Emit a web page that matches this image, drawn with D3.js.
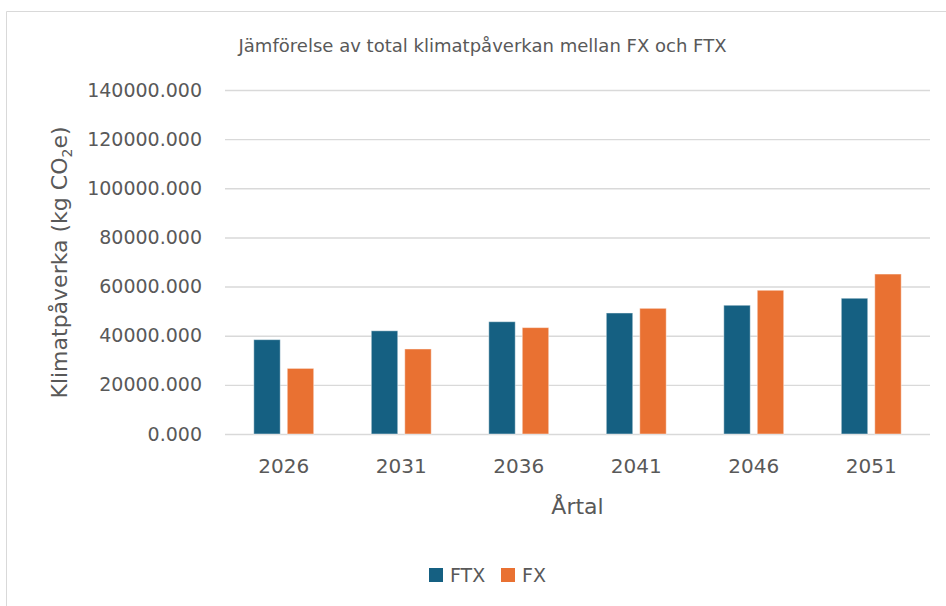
<!DOCTYPE html>
<html>
<head>
<meta charset="utf-8">
<script src="https://cdn.jsdelivr.net/npm/d3@7"></script>
<style>
  html, body { margin: 0; padding: 0; background: #fff; }
  svg { display: block; }
</style>
</head>
<body>
<div id="chart"></div>
<script>
// Klimatpåverkan FX vs FTX — grouped bar chart

var years     = ['2026', '2031', '2036', '2041', '2046', '2051'];
var seriesIds = ['FTX', 'FX'];
var ftxValues = [38400, 42000, 45700, 49250, 52400, 55250];
var fxValues  = [26700, 34600, 43300, 51150, 58500, 65100];
var yTicks    = [0, 20000, 40000, 60000, 80000, 100000, 120000, 140000];

var COLORS = { FTX: '#156082', FX: '#E97132' };
var TEXT   = '#595959';
var FONT   = 'DejaVu Sans, Liberation Sans, sans-serif';

var W = 946, H = 606;
var rows = years.map(function(y, i) { return { year: y, FTX: ftxValues[i], FX: fxValues[i] }; });

var svg = d3.select('#chart').append('svg').attr('width', W).attr('height', H);

// chart area border (only top + left visible)
svg.append('path')
  .attr('d', 'M6.5 606 L6.5 11.5 L946 11.5')
  .attr('fill', 'none').attr('stroke', '#d9d9d9').attr('stroke-width', 1);

// ── Scales ──────────────────────────────────────────────────────────────────
var x0 = d3.scaleBand().domain(years).range([225, 930]).paddingInner(0.49).paddingOuter(0.245);
var x1 = d3.scaleBand().domain(seriesIds).range([0, x0.bandwidth()]).paddingInner(0.21);
var y  = d3.scaleLinear().domain([0, 140000]).range([434, 90]);

// ── Gridlines ───────────────────────────────────────────────────────────────
svg.append('g')
  .attr('transform', 'translate(225,0)')
  .call(d3.axisLeft(y).tickValues(yTicks).tickSize(-705).tickFormat(''))
  .call(function(g) {
    g.select('.domain').remove();
    g.selectAll('line').attr('stroke', '#d9d9d9').attr('stroke-width', 1.4);
  });

// ── Y tick labels ───────────────────────────────────────────────────────────
svg.append('g')
  .attr('transform', 'translate(202,0)')
  .call(d3.axisLeft(y).tickValues(yTicks).tickSize(0).tickPadding(0)
    .tickFormat(function(d) { return d3.format('.3f')(d); }))
  .call(function(g) {
    g.select('.domain').remove();
    g.selectAll('text').attr('fill', TEXT).attr('font-family', FONT).attr('font-size', '19px');
  });

// ── Bars ────────────────────────────────────────────────────────────────────
var groups = svg.append('g').selectAll('g').data(rows).enter().append('g')
  .attr('transform', function(d) { return 'translate(' + x0(d.year) + ',0)'; });

groups.selectAll('rect')
  .data(function(d) { return seriesIds.map(function(k) { return { key: k, value: d[k] }; }); })
  .enter().append('rect')
  .attr('x', function(d) { return x1(d.key); })
  .attr('y', function(d) { return y(d.value); })
  .attr('width', x1.bandwidth())
  .attr('height', function(d) { return y(0) - y(d.value); })
  .attr('fill', function(d) { return COLORS[d.key]; })
  .attr('stroke', '#ffffff').attr('stroke-opacity', 0.45).attr('stroke-width', 1);

// ── X axis labels ───────────────────────────────────────────────────────────
svg.append('g')
  .attr('transform', 'translate(0,434)')
  .call(d3.axisBottom(x0).tickSize(0).tickPadding(0))
  .call(function(g) {
    g.select('.domain').remove();
    g.selectAll('text').attr('fill', TEXT).attr('font-family', FONT).attr('font-size', '20px')
      .attr('y', 39).attr('dy', 0);
  });

// ── Titles ──────────────────────────────────────────────────────────────────
svg.append('text')
  .attr('x', 482.5).attr('y', 51.5).attr('text-anchor', 'middle')
  .attr('fill', TEXT).attr('font-family', FONT).attr('font-size', '17px')
  .attr('textLength', 488).attr('lengthAdjust', 'spacingAndGlyphs')
  .text('Jämförelse av total klimatpåverkan mellan FX och FTX');

svg.append('text')
  .attr('x', 577.5).attr('y', 514).attr('text-anchor', 'middle')
  .attr('fill', TEXT).attr('font-family', FONT).attr('font-size', '22px')
  .text('Årtal');

var yTitle = svg.append('text')
  .attr('transform', 'translate(67,262.5) rotate(-90)')
  .attr('text-anchor', 'middle')
  .attr('fill', TEXT).attr('font-family', FONT).attr('font-size', '22px');
yTitle.append('tspan').text('Klimatpåverka (kg CO');
yTitle.append('tspan').attr('font-size', '14px').attr('dy', 5).text('2');
yTitle.append('tspan').attr('dy', -5).text('e)');

// ── Legend ──────────────────────────────────────────────────────────────────
var legendX = { FTX: 429, FX: 501 };
var legend = svg.append('g').selectAll('g').data(seriesIds).enter().append('g')
  .attr('transform', function(d) { return 'translate(' + legendX[d] + ',568)'; });
legend.append('rect').attr('width', 14).attr('height', 14)
  .attr('fill', function(d) { return COLORS[d]; });
legend.append('text').attr('x', 21).attr('y', 14)
  .attr('fill', TEXT).attr('font-family', FONT).attr('font-size', '19px')
  .text(function(d) { return d; });
</script>
</body>
</html>
